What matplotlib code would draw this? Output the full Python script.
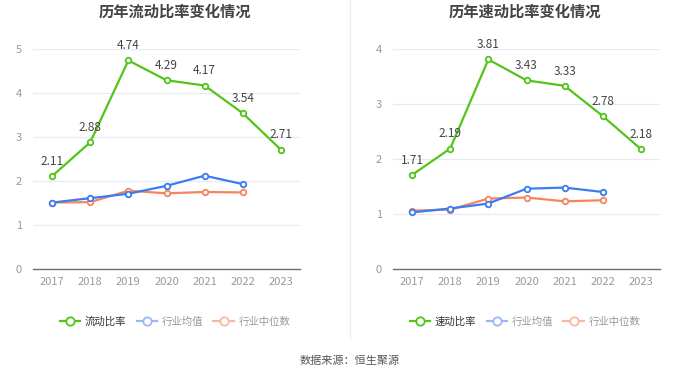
import matplotlib
matplotlib.use("Agg")
import matplotlib.pyplot as plt
from matplotlib.lines import Line2D

plt.rcParams['font.family'] = ['Noto Sans CJK SC', 'DejaVu Sans']

years = ["2017", "2018", "2019", "2020", "2021", "2022", "2023"]

current_ratio = [2.11, 2.88, 4.74, 4.29, 4.17, 3.54, 2.71]
current_ind_mean = [1.51, 1.61, 1.71, 1.89, 2.12, 1.93]
current_ind_median = [1.51, 1.52, 1.78, 1.72, 1.75, 1.74]

quick_ratio = [1.71, 2.19, 3.81, 3.43, 3.33, 2.78, 2.18]
quick_ind_mean = [1.03, 1.10, 1.19, 1.46, 1.48, 1.40]
quick_ind_median = [1.06, 1.08, 1.28, 1.30, 1.23, 1.25]

titles = ["历年流动比率变化情况", "历年速动比率变化情况"]
main_names = ["流动比率", "速动比率"]
other_names = ["行业均值", "行业中位数"]
ymax = [5, 4]

GREEN = "#52c41a"
BLUE = "#3b7cf0"
ORANGE = "#f7845e"

fig = plt.figure(figsize=(7, 3.77), dpi=100)
W, H = 700, 377

def add_ax(x0, x1, ytop, ybot):
    return fig.add_axes([x0 / W, 1 - ybot / H, (x1 - x0) / W, (ybot - ytop) / H])

axes = [add_ax(33, 300, 49, 269), add_ax(393, 660, 49, 269)]
datasets = [(current_ratio, current_ind_mean, current_ind_median),
            (quick_ratio, quick_ind_mean, quick_ind_median)]

for i, ax in enumerate(axes):
    main, mean, med = datasets[i]
    x = list(range(len(years)))
    ax.plot(x[:len(med)], med, color=ORANGE, lw=1.6, marker='o', ms=4,
            mfc='white', mec=ORANGE, mew=1.3, zorder=3)
    ax.plot(x[:len(mean)], mean, color=BLUE, lw=1.6, marker='o', ms=4,
            mfc='white', mec=BLUE, mew=1.3, zorder=4)
    ax.plot(x, main, color=GREEN, lw=1.6, marker='o', ms=4,
            mfc='white', mec=GREEN, mew=1.3, zorder=5)
    for xi, v in zip(x, main):
        ax.annotate(f"{v:.2f}", (xi, v), xytext=(0, 6), textcoords='offset points',
                    ha='center', va='bottom', fontsize=8.5, color='#444444', zorder=6)
    ax.set_xlim(-0.5, len(years) - 0.5)
    ax.set_ylim(0, ymax[i])
    ax.set_yticks(range(0, ymax[i] + 1))
    ax.set_xticks(x)
    ax.set_xticklabels(years)
    ax.tick_params(axis='both', colors='#999999', labelsize=8, length=0)
    ax.tick_params(axis='x', pad=6)
    ax.tick_params(axis='y', pad=8)
    ax.grid(axis='y', color='#e6ebf3', lw=0.9)
    ax.set_axisbelow(True)
    for s in ['top', 'right', 'left']:
        ax.spines[s].set_visible(False)
    ax.spines['bottom'].set_color('#6e7079')
    ax.spines['bottom'].set_linewidth(1)
    fig.text((175 + 350 * i) / W, 1 - 12 / H, titles[i], ha='center', va='center',
             fontsize=11, fontweight='bold', color='#444444')

    handles = [Line2D([0], [0], color=GREEN, lw=1.6, marker='o', ms=6, mfc='white', mec=GREEN, mew=1.3),
               Line2D([0], [0], color='#9bb8f5', lw=1.6, marker='o', ms=6, mfc='white', mec='#9bb8f5', mew=1.3),
               Line2D([0], [0], color='#f9b8a3', lw=1.6, marker='o', ms=6, mfc='white', mec='#f9b8a3', mew=1.3)]
    leg = fig.legend(handles, [main_names[i]] + other_names, ncol=3,
                     loc='center', bbox_to_anchor=((175 + 350 * i) / W, 1 - 322 / H),
                     frameon=False, fontsize=7.5, handlelength=2.0, handletextpad=0.4,
                     columnspacing=1.0)
    for j, t in enumerate(leg.get_texts()):
        t.set_color('#333333' if j == 0 else '#999999')

fig.add_artist(Line2D([350 / W, 350 / W], [1 - 0 / H, 1 - 338 / H], color='#eeeeee', lw=1))
fig.text(350 / W, 1 - 361 / H, "数据来源：恒生聚源", ha='center', va='center',
         fontsize=8, color='#555555')

fig.savefig("out.png", dpi=100, facecolor='white')
